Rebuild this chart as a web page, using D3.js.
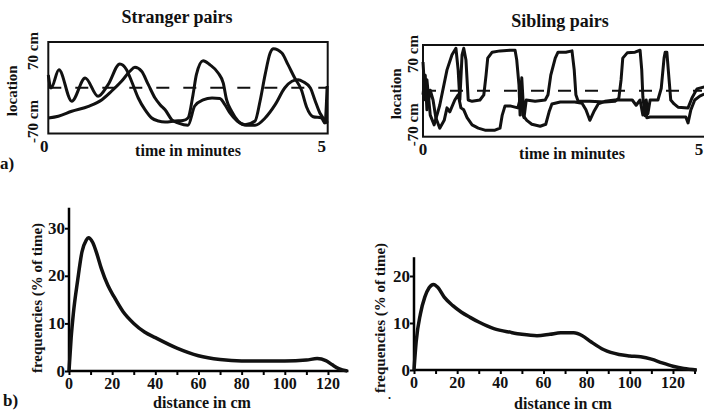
<!DOCTYPE html>
<html>
<head>
<meta charset="utf-8">
<script src="https://cdn.jsdelivr.net/npm/d3@7"></script>
<style>
body{margin:0;background:#fff;}
svg text{font-family:'Liberation Serif','DejaVu Serif',serif;font-weight:bold;fill:#111;}
</style>
</head>
<body>
<script>
// ---- data ----
var timeTicks = [0, 5];            // minutes
var midline = 0;                   // dashed reference (cm)

// stranger pairs: [time (min), location (cm)]
var strangerA = [[0,19.5],[0.05,-0.4],[0.19,27.6],[0.42,-20.7],[0.66,14.9],[0.89,-13.1],[1.07,4.7],[1.28,36.3],[1.40,27.6],[1.49,9.9],[1.61,-15.7],[1.73,-33.6],[1.85,-46.3],[1.97,-50.9],[2.09,-52.4],[2.27,-50.9],[2.41,-50.1],[2.50,-46.3],[2.59,-10.6],[2.65,20],[2.77,41.4],[2.89,35.3],[3.04,22.6],[3.13,7.3],[3.19,-18.3],[3.28,-36],[3.40,-51.3],[3.52,-56.5],[3.70,-50.9],[3.79,-20.3],[3.88,20],[3.97,53.2],[4.03,59.7],[4.18,53.2],[4.29,35.3],[4.41,14.9],[4.53,-3.4],[4.62,-29],[4.74,-44.3],[4.89,-46.3],[4.95,-54],[4.99,2.7]];
var strangerB = [[0,-46.3],[0.18,-43.7],[0.42,-36],[0.72,-28.4],[0.96,-18.3],[1.13,-5.4],[1.31,9.9],[1.46,25.2],[1.55,31.3],[1.67,25.2],[1.79,4.7],[1.91,-15.7],[2.00,-25.9],[2.09,-33.6],[2.21,-48.9],[2.33,-54],[2.50,-57.4],[2.62,-27.9],[2.77,-18.7],[2.93,-15.7],[3.07,-16.4],[3.16,-25.9],[3.25,-38.6],[3.38,-50.9],[3.55,-57.4],[3.70,-57.4],[3.88,-46.3],[4.06,-25.9],[4.23,-0.4],[4.36,9.9],[4.47,12.3],[4.56,9.3],[4.69,-0.4],[4.77,-18.7],[4.86,-38.6],[5.0,-54]];

// sibling pairs
var siblingA = [[0,44],[0.04,-14],[0.07,17],[0.13,-37],[0.20,-52],[0.30,-22],[0.43,32],[0.52,55],[0.59,65],[0.63,32],[0.66,-14],[0.70,55],[0.73,65],[0.77,47],[0.81,-14],[0.88,-16],[1.02,-14],[1.09,-6],[1.13,24],[1.16,50],[1.24,59],[1.38,61],[1.56,62],[1.65,62],[1.68,47],[1.72,9],[1.74,-37],[1.77,20],[1.81,-41],[1.85,-14],[2.01,-16],[2.19,-14],[2.24,-6],[2.29,24],[2.37,50],[2.42,59],[2.56,59],[2.67,61],[2.71,32],[2.74,-6],[2.78,-16],[2.99,-16],[3.26,-17],[3.44,-16],[3.51,-11],[3.55,17],[3.58,50],[3.66,58],[3.80,59],[3.89,62],[3.92,32],[3.94,-9],[3.98,-38],[4.00,-14],[4.03,-35],[4.07,-14],[4.21,-14],[4.27,4],[4.32,50],[4.34,59],[4.37,59],[4.41,17],[4.44,-14],[4.50,-20],[4.57,-25],[4.75,-26],[4.82,-11],[4.91,3],[5.04,6]];
var siblingB = [[0,-6],[0.04,24],[0.07,-29],[0.13,1],[0.18,-14],[0.23,-41],[0.30,-57],[0.38,-45],[0.43,-26],[0.48,-32],[0.57,-14],[0.63,-6],[0.68,-26],[0.73,-29],[0.79,-41],[0.88,-52],[0.99,-57],[1.11,-60],[1.29,-60],[1.38,-57],[1.42,-37],[1.47,-23],[1.56,-23],[1.70,-26],[1.76,-6],[1.79,-37],[1.86,-45],[1.95,-51],[2.10,-54],[2.20,-51],[2.26,-32],[2.31,-20],[2.46,-17],[2.72,-17],[2.85,-19],[2.92,-29],[2.99,-45],[3.06,-32],[3.14,-20],[3.26,-16],[3.44,-14],[3.62,-14],[3.75,-14],[3.82,-22],[3.89,-14],[3.94,-37],[3.98,-17],[4.01,-41],[4.07,-40],[4.25,-40],[4.52,-40],[4.71,-40],[4.75,-49],[4.80,-29],[4.87,-14],[4.96,-8],[5.04,-5]];

// distance distributions: distance (cm), frequency (% of time)
var distTicks = [0, 20, 40, 60, 80, 100, 120];
var distStranger = [0, 1, 2, 4, 6, 8, 9, 11, 13, 15, 18, 21, 25, 30, 35, 40, 50, 60, 70, 80, 90, 100, 110, 115, 119, 122, 125, 129];
var freqStranger = [0, 7, 12, 19, 25, 27.5, 28, 27, 24.5, 21.5, 18, 15.5, 12.5, 10, 8.2, 7, 4.8, 3.2, 2.4, 2.1, 2.1, 2.1, 2.3, 2.6, 2.2, 1.3, 0.5, 0];
var distSibling = [0, 1, 3, 5, 7, 9, 11, 14, 18, 22, 26, 30, 37, 45, 50, 57, 63, 68, 74, 78, 82, 88, 95, 100, 105, 110, 115, 120, 125, 131];
var freqSibling = [0, 6, 12, 15.5, 17.5, 18.2, 17.6, 15.5, 13.7, 12.3, 11.2, 10.2, 8.8, 8, 7.6, 7.3, 7.6, 7.9, 7.9, 7.3, 6, 4.3, 3.3, 3, 2.8, 2.3, 1.5, 0.8, 0.3, 0];
var freqTicksStranger = [0, 10, 20, 30];
var freqTicksSibling = [0, 10, 20];

var width = 704, height = 413;

var svg = d3.select("body").append("svg")
    .attr("width", width)
    .attr("height", height);

// ---- top row: location traces ----
function tracePanel(o){
    var x = d3.scaleLinear().domain([0,5]).range([o.x0, o.x1]);
    var y = d3.scaleLinear().domain([-70,70]).range([o.y1, o.y0]);
    var g = svg.append("g");

    g.append("rect")
        .attr("x", o.x0).attr("y", o.y0)
        .attr("width", o.boxW).attr("height", o.y1 - o.y0)
        .attr("fill", "none").attr("stroke", "#111").attr("stroke-width", 2);

    g.append("line")
        .attr("x1", x(0)).attr("x2", x(5))
        .attr("y1", y(midline)).attr("y2", y(midline))
        .attr("stroke", "#111").attr("stroke-width", 2)
        .attr("stroke-dasharray", "13,14");

    var line = d3.line()
        .x(function(d){ return x(d[0]); })
        .y(function(d){ return y(d[1]); })
        .curve(o.curve);

    [o.a, o.b].forEach(function(s){
        g.append("path")
            .attr("d", line(s))
            .attr("fill", "none")
            .attr("stroke", "#111")
            .attr("stroke-width", 3)
            .attr("stroke-linejoin", "round");
    });

    g.selectAll(".tt").data(timeTicks).enter().append("text")
        .attr("x", function(d){ return x(d) + (d ? o.tickDx5 : o.tickDx0); })
        .attr("y", o.y1 + 18)
        .attr("text-anchor", "middle")
        .style("font-size", "17px")
        .text(function(d){ return d; });

    g.append("text").attr("x", o.titleX).attr("y", o.titleY)
        .attr("text-anchor", "middle").style("font-size", "18px")
        .text(o.title);

    g.append("text").attr("x", o.xlabX).attr("y", o.y1 + 22)
        .attr("text-anchor", "middle").style("font-size", "16px")
        .text("time in minutes");

    // rotated labels
    var rot = [
        {t:"location", x:o.locX, y:(o.y0 + o.y1)/2 + 3},
        {t:"70 cm", x:o.cmX, y:o.y0 + 9},
        {t:"-70 cm", x:o.cmX, y:o.y1 - 12}
    ];
    rot.forEach(function(r){
        g.append("text")
            .attr("transform", "translate(" + r.x + "," + r.y + ") rotate(-90)")
            .attr("text-anchor", "middle")
            .attr("dominant-baseline", "central")
            .style("font-size", "15px")
            .text(r.t);
    });
}

tracePanel({x0:48.3, x1:327.7, boxW:279.4, y0:42, y1:133.5, a:strangerA, b:strangerB,
    curve:d3.curveMonotoneX, tickDx0:-4, tickDx5:-6, title:"Stranger pairs", titleX:177, titleY:23,
    xlabX:188, locX:12, cmX:33});
tracePanel({x0:423, x1:702, boxW:284, y0:45, y1:136.7, a:siblingA, b:siblingB,
    curve:d3.curveLinear, tickDx0:0, tickDx5:-3, title:"Sibling pairs", titleX:560, titleY:27,
    xlabX:572, locX:396, cmX:413});

svg.append("text").attr("x", 0).attr("y", 169)
    .style("font-size", "17px").text("a)");

// ---- bottom row: distance distributions ----
function distPanel(o){
    var x = d3.scaleLinear().domain([0,130]).range([o.x0, o.x0 + 130*2.158]);
    var y = d3.scaleLinear().domain([0, o.ymax]).range([o.yb, o.yb - o.ymax*o.ky]);
    var g = svg.append("g");

    var xa = g.append("g")
        .attr("transform", "translate(0," + o.yb + ")")
        .call(d3.axisBottom(x).tickValues(d3.range(0,131,10)).tickSize(4).tickFormat(""));
    xa.select(".domain").attr("stroke-width", 2.5).attr("d", "M" + x(0) + ",0H" + x(o.xend));
    xa.selectAll(".tick line").attr("stroke-width", 2)
        .filter(function(d){ return d > o.xend; }).remove();

    g.selectAll(".xl").data(distTicks).enter().append("text")
        .attr("x", function(d){ return x(d); })
        .attr("y", o.yb + 18)
        .attr("text-anchor", "middle")
        .style("font-size", "16px")
        .text(function(d){ return d; });

    var ya = g.append("g")
        .attr("transform", "translate(" + o.x0 + ",0)")
        .call(d3.axisLeft(y).tickValues(o.yticks).tickSize(4).tickFormat(""));
    ya.select(".domain").attr("stroke-width", 2.5).attr("d", "M0," + y(o.ymax) + "V" + o.yb);
    ya.selectAll(".tick line").attr("stroke-width", 2);

    g.selectAll(".yl").data(o.yticks).enter().append("text")
        .attr("x", o.x0 - 4)
        .attr("y", function(d){ return y(d); })
        .attr("text-anchor", "end")
        .attr("dominant-baseline", "central")
        .style("font-size", "17px")
        .text(function(d){ return d; });

    var line = d3.line()
        .x(function(d,i){ return x(o.dist[i]); })
        .y(function(d){ return y(d); })
        .curve(d3.curveMonotoneX);

    g.append("path")
        .attr("d", line(o.freq))
        .attr("fill", "none")
        .attr("stroke", "#111")
        .attr("stroke-width", 3.5)
        .attr("stroke-linejoin", "round");

    g.append("text").attr("x", o.xlabX).attr("y", o.xlabY)
        .attr("text-anchor", "middle").style("font-size", "16px")
        .text("distance in cm");

    g.append("text")
        .attr("transform", "translate(" + o.ylabX + "," + o.ylabY + ") rotate(-90)")
        .attr("text-anchor", "middle")
        .attr("dominant-baseline", "central")
        .style("font-size", "15px")
        .text("frequencies (% of time)");
}

distPanel({x0:69, yb:371, ymax:34.3, ky:4.76, yticks:freqTicksStranger, xend:129.5,
    dist:distStranger, freq:freqStranger, xlabX:202, xlabY:408, ylabX:37, ylabY:298});
distPanel({x0:414, yb:370, ymax:24, ky:4.7, yticks:freqTicksSibling, xend:131,
    dist:distSibling, freq:freqSibling, xlabX:563, xlabY:409, ylabX:380, ylabY:318});

svg.append("text").attr("x", 3).attr("y", 406)
    .style("font-size", "17px").text("b)");
svg.append("text").attr("x", 388).attr("y", 399)
    .style("font-size", "12px").text(".");
</script>
</body>
</html>
